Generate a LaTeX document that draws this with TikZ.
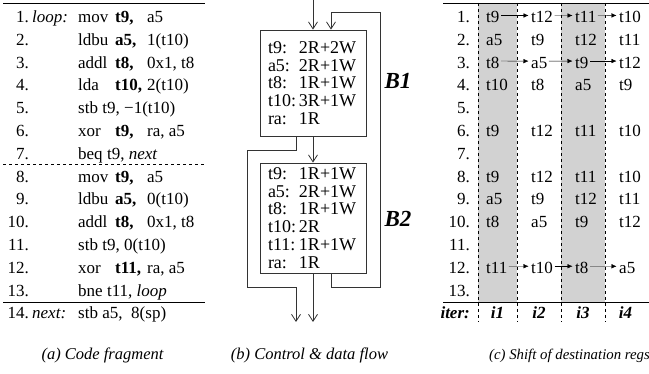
\documentclass[tikz,border=0pt]{standalone}
\usepackage{fontspec}
\setmainfont{Liberation Serif}
\usetikzlibrary{arrows.meta}

\newcommand{\codefont}{\fontsize{17}{19}\selectfont}
\newcommand{\boxfont}{\fontsize{18}{17.8}\selectfont}
\newcommand{\capfont}{\fontsize{16.5}{19}\selectfont}
\newcommand{\regline}[2]{\makebox[31pt][l]{#1}#2}

\tikzset{
  codetxt/.style={inner sep=0pt, anchor=base west, font=\codefont},
  lineno/.style={inner sep=0pt, anchor=base east, font=\codefont},
  regbox/.style={draw, line width=0.8pt, black!80, text=black, text width=90pt,
    inner xsep=8pt, align=left, font=\boxfont},
  flow/.style={line width=0.8pt, black!80, -{Straight Barb[length=7pt,width=9pt]}},
  regshift/.style={-{Latex[length=5pt,width=4.5pt]}, shorten <=1.5pt, shorten >=2.5pt},
  blabel/.style={font=\fontsize{23}{26}\selectfont\bfseries\itshape},
  caption/.style={inner sep=0pt, anchor=base, font=\capfont\itshape},
}

\begin{document}
\begin{tikzpicture}[x=1pt,y=-1pt]
\useasboundingbox (0,0) rectangle (649,374);

% (a) code fragment
\draw (3,3) -- (205,3);
\draw[dashed] (3,164) -- (205,164);
\draw (3,302) -- (205,302);
\foreach \i in {1,...,13}
  \node[lineno] (an\i) at (29,{22.5+22.8*(\i-1)}) {\i.};
\node[lineno] (an14) at (29,318.5) {14.};
\node[codetxt] (loop) at (32,22.5) {\textit{loop:}};
\node[codetxt] (next) at (32,318.5) {\textit{next:}};
\foreach \i/\op in {1/mov,2/ldbu,3/addl,4/lda,5/stb,6/xor,7/beq,
                    8/mov,9/ldbu,10/addl,11/stb,12/xor,13/bne}
  \node[codetxt] (op\i) at (78,{22.5+22.8*(\i-1)}) {\op};
\node[codetxt] (op14) at (78,318.5) {stb};
% destination registers in bold
\foreach \i/\dst/\src in {1/t9/a5, 2/a5/1(t10), 3/t8/{0x1, t8}, 4/t10/2(t10),
    6/t9/{ra, a5}, 8/t9/a5, 9/a5/0(t10), 10/t8/{0x1, t8}, 12/t11/{ra, a5}} {
  \node[codetxt] (dst\i) at (115,{22.5+22.8*(\i-1)}) {\textbf{\dst,}};
  \node[codetxt] (src\i) at (147,{22.5+22.8*(\i-1)}) {\src};
}
\node[codetxt] (arg5) at ([xshift=4pt]op5.base east) {t9, −1(t10)};
\node[codetxt] (arg7) at ([xshift=4pt]op7.base east) {t9, \textit{next}};
\node[codetxt] (arg11) at ([xshift=4pt]op11.base east) {t9, 0(t10)};
\node[codetxt] (arg13) at ([xshift=4pt]op13.base east) {t11, \textit{loop}};
\node[codetxt] (arg14) at ([xshift=4pt]op14.base east) {a5,\ \ 8(sp)};

% (b) control & data flow
\node[regbox, minimum height=106pt] (B1) at (313,83)
  {\regline{t9:}{2R+2W}\\ \regline{a5:}{2R+1W}\\ \regline{t8:}{1R+1W}\\
   \regline{t10:}{3R+1W}\\ \regline{ra:}{1R}};
\node[regbox, minimum height=110pt] (B2) at (313,218)
  {\regline{t9:}{1R+1W}\\ \regline{a5:}{2R+1W}\\ \regline{t8:}{1R+1W}\\
   \regline{t10:}{2R}\\ \regline{t11:}{1R+1W}\\ \regline{ra:}{1R}};
\node[blabel] (nameB1) at (398,81) {B1};
\node[blabel] (nameB2) at (398,219) {B2};
\coordinate (in) at (313,0);
\coordinate (back) at (331,12);
\coordinate (backR) at (380,287);
\coordinate (skip) at (247,150);
\coordinate (exitA) at (296,322);
\coordinate (exitB) at (313,322);
\draw[flow] (in) -- (in |- B1.north);
\draw[flow] (B1) -- (B2);
\draw[flow] (B2) -- (exitB);
\draw[flow] (back |- B2.south) |- (backR) |- (back) -- (back |- B1.north);
\draw[flow] (exitA |- B1.south) |- (skip) |- (exitA |- backR) -- (exitA);

% (c) shift of destination regs
\fill[gray!35] (478,3) rectangle (517,302);
\fill[gray!35] (561,3) rectangle (605,302);
\foreach \x in {478,517,561,605}
  \draw[dash pattern=on 3.5pt off 2.5pt, line width=0.6pt] (\x,3) -- (\x,322);
\draw (443,3) -- (649,3);
\draw (443,302) -- (649,302);
\foreach \i in {1,...,13}
  \node[lineno] (cn\i) at (470,{22.5+22.8*(\i-1)}) {\i.};
\foreach \r/\a/\b/\c/\d in {1/t9/t12/t11/t10, 2/a5/t9/t12/t11, 3/t8/a5/t9/t12,
    4/t10/t8/a5/t9, 6/t9/t12/t11/t10, 8/t9/t12/t11/t10, 9/a5/t9/t12/t11,
    10/t8/a5/t9/t12, 12/t11/t10/t8/a5} {
  \node[codetxt] (c\r-1) at (486,{22.5+22.8*(\r-1)}) {\a};
  \node[codetxt] (c\r-2) at (531,{22.5+22.8*(\r-1)}) {\b};
  \node[codetxt] (c\r-3) at (575,{22.5+22.8*(\r-1)}) {\c};
  \node[codetxt] (c\r-4) at (619,{22.5+22.8*(\r-1)}) {\d};
}
\foreach \r in {1,3,12}
  \foreach \j/\k in {1/2,2/3,3/4}
    \draw[regshift] ([yshift=1.5pt]c\r-\j.east) -- ([yshift=1.5pt]c\r-\k.west);
\node[lineno] (iter) at (470,318.5) {\textbf{\textit{iter:}}};
\foreach \x/\n in {497.5/1,539/2,583/3,625.5/4}
  \node[codetxt, anchor=base] (it\n) at (\x,318.5) {\textbf{\textit{i\n}}};

% captions
\node[caption] (capA) at (102.5,360) {(a) Code fragment};
\node[caption] (capB) at (309.5,360) {(b) Control \& data flow};
\node[caption, anchor=base west, font=\fontsize{14.8}{17}\selectfont\itshape] (capC)
  at (489,360) {(c) Shift of destination regs};
\end{tikzpicture}
\end{document}
